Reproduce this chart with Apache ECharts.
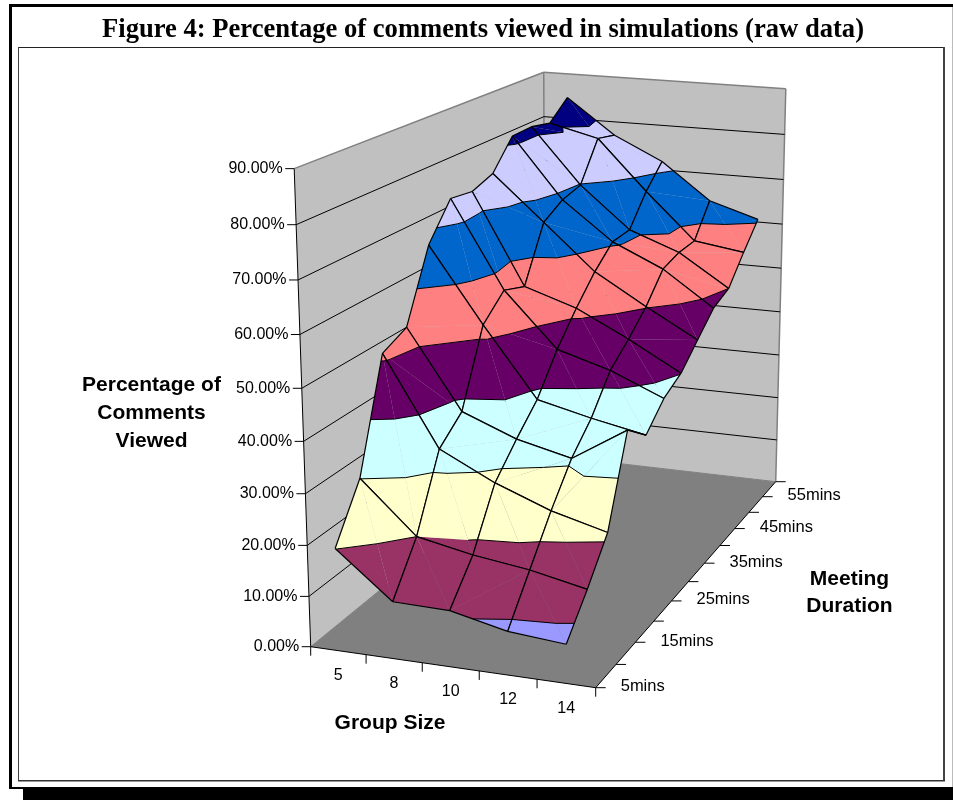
<!DOCTYPE html>
<html><head><meta charset="utf-8"><style>html,body{margin:0;background:#fff}#chart{width:953px;height:800px}</style>
<script src="https://cdn.jsdelivr.net/npm/echarts@6/dist/echarts.min.js"></script></head>
<body><div id="chart"></div>
<script>
// Simulation results: share of comments viewed (%) by group size and meeting length
const groupSizes = ['5', '8', '10', '12', '14'];
const durations = ['5mins', '10mins', '15mins', '20mins', '25mins', '30mins', '35mins', '40mins', '45mins', '50mins', '55mins', '60mins'];
const viewedGroup5  = [20.1, 30.1, 51.3, 53.6, 67.4, 74.5, 73.8, 75.5, 81.5, 81.7, 80.7, 84.7];
const viewedGroup8  = [11.2, 20.0, 33.7, 37.9, 52.4, 56.8, 55.0, 66.1, 68.7, 69.8, 78.1, 77.0];
const viewedGroup10 = [11.0, 17.8, 28.3, 33.6, 38.4, 45.7, 51.5, 56.6, 60.6, 60.9, 67.2, 71.9];
const viewedGroup12 = [8.5, 16.3, 24.1, 31.0, 35.8, 42.5, 46.1, 50.2, 55.7, 56.9, 57.1, 63.9];
const viewedGroup14 = [7.6, 14.0, 21.2, 37.9, 33.6, 37.9, 40.1, 44.2, 48.3, 50.0, 55.5, 60.6];
const surface = [viewedGroup5, viewedGroup8, viewedGroup10, viewedGroup12, viewedGroup14];
const percentTicks = [0, 10, 20, 30, 40, 50, 60, 70, 80, 90];
const bandColors = ['#9999FF', '#993366', '#FFFFCC', '#CCFFFF', '#660066', '#FF8080', '#0066CC', '#CCCCFF', '#000080'];
const PCT_MAX = 90;

function solve(A, b) {
  const n = b.length, M = A.map((r, i) => [...r, b[i]]);
  for (let c = 0; c < n; c++) {
    let p = c;
    for (let r = c; r < n; r++) if (Math.abs(M[r][c]) > Math.abs(M[p][c])) p = r;
    [M[c], M[p]] = [M[p], M[c]];
    for (let r = 0; r < n; r++) {
      if (r === c) continue;
      const f = M[r][c] / M[c][c];
      for (let k = c; k <= n; k++) M[r][k] -= f * M[c][k];
    }
  }
  return M.map((r, i) => r[n] / r[i]);
}

// Perspective camera, fitted to where the box corners sit on the canvas
function makeCamera() {
  const floor = [[0, 0, 310.7, 646.7], [1, 0, 595.7, 687.7], [1, 1, 775.7, 481.7], [0, 1, 545.2, 455]];
  const top = [[0, 0, 295.7, 170], [0, 1, 541.7, 73.3], [1, 1, 786.7, 86.7]];
  const A = [], b = [];
  for (const [u, v, x, y] of floor) {
    A.push([u, v, 1, 0, 0, 0, -u * x, -v * x]); b.push(x);
    A.push([0, 0, 0, u, v, 1, -u * y, -v * y]); b.push(y);
  }
  const [a, bb, d, e, f, l, g, h] = solve(A, b);
  const R = [], s = [];
  for (const [u, v, x, y] of top) {
    R.push([1, 0, -x]); s.push(x * (g * u + h * v + 1) - (a * u + bb * v + d));
    R.push([0, 1, -y]); s.push(y * (g * u + h * v + 1) - (e * u + f * v + l));
  }
  const N = [0, 1, 2].map(i => [0, 1, 2].map(j => R.reduce((t, r) => t + r[i] * r[j], 0)));
  const nb = [0, 1, 2].map(i => R.reduce((t, r, k) => t + r[i] * s[k], 0));
  const [c, k, i3] = solve(N, nb);
  return (u, v, pct) => {
    const w = pct / PCT_MAX, q = g * u + h * v + i3 * w + 1;
    return [(a * u + bb * v + c * w + d) / q, (e * u + f * v + k * w + l) / q];
  };
}
const project = makeCamera();

const uOf = i => (i + 0.5) / groupSizes.length;
const vOf = j => j / (durations.length - 1);

// Cut a triangle [u, v, pct] into the colour bands it crosses
function splitTriangle(tri) {
  const parts = [];
  const lerp = (p, q, level) => {
    const t = (level - p[2]) / (q[2] - p[2]);
    return [p[0] + (q[0] - p[0]) * t, p[1] + (q[1] - p[1]) * t, level];
  };
  const clip = (poly, level, keepAbove) => {
    const out = [];
    poly.forEach((p, idx) => {
      const q = poly[(idx + 1) % poly.length];
      const pIn = keepAbove ? p[2] >= level : p[2] <= level;
      const qIn = keepAbove ? q[2] >= level : q[2] <= level;
      if (pIn) out.push(p);
      if (pIn !== qIn) out.push(lerp(p, q, level));
    });
    return out;
  };
  bandColors.forEach((color, b) => {
    const lo = b * 10, hi = lo + 10;
    let poly = clip(tri, lo, true);
    if (poly.length >= 3) poly = clip(poly, hi, false);
    if (poly.length >= 3) parts.push({ color, poly, lo, hi });
  });
  return parts;
}

// Each cell folds along the diagonal whose two corners sum highest
function cellTriangles(i, j) {
  const P = (a, b) => [uOf(a), vOf(b), surface[a][b]];
  const A = P(i, j), B = P(i + 1, j), C = P(i + 1, j + 1), D = P(i, j + 1);
  return A[2] + C[2] >= B[2] + D[2] ? [[A, B, C], [A, C, D]] : [[A, B, D], [B, C, D]];
}

// Cells run back to front so nearer ones paint over farther ones
const cellData = [];
for (let j = durations.length - 2; j >= 0; j--) {
  for (let i = 0; i < groupSizes.length - 1; i++) cellData.push([i, j]);
}

function chartShapes(api) {
  const at = (u, v, p) => api.coord(project(u, v, p));
  const poly = (pts, style) => ({ type: 'polygon', shape: { points: pts }, style, silent: true });
  const line = (a, b, stroke, width) => ({
    type: 'line', shape: { x1: a[0], y1: a[1], x2: b[0], y2: b[1] },
    style: { stroke, lineWidth: width || 1 }, silent: true
  });
  return { at, poly, line };
}

const wallGrey = '#C0C0C0', floorGrey = '#808080', edgeGrey = '#808080';

// Walls, floor, grid lines, ticks and tick labels
function renderBox(params, api) {
  const { at, poly, line } = chartShapes(api);
  const kids = [];
  kids.push(poly([at(0, 0, 0), at(0, 1, 0), at(0, 1, PCT_MAX), at(0, 0, PCT_MAX)], { fill: wallGrey }));
  kids.push(poly([at(0, 1, 0), at(1, 1, 0), at(1, 1, PCT_MAX), at(0, 1, PCT_MAX)], { fill: wallGrey }));
  kids.push(poly([at(0, 0, 0), at(1, 0, 0), at(1, 1, 0), at(0, 1, 0)], { fill: floorGrey }));
  // Top rim and the far edges of the walls
  kids.push(line(at(0, 0, PCT_MAX), at(0, 1, PCT_MAX), edgeGrey, 1.5));
  kids.push(line(at(0, 1, PCT_MAX), at(1, 1, PCT_MAX), edgeGrey, 1.5));
  kids.push(line(at(0, 1, 0), at(0, 1, PCT_MAX), edgeGrey, 1.5));
  kids.push(line(at(1, 1, 0), at(1, 1, PCT_MAX), edgeGrey, 1.5));
  kids.push(line(at(0, 1, 0), at(1, 1, 0), edgeGrey));
  kids.push(line(at(0, 0, 0), at(0, 1, 0), edgeGrey));
  percentTicks.forEach(p => {
    const a = at(0, 0, p), b = at(0, 1, p), c = at(1, 1, p);
    if (p > 0 && p < PCT_MAX) {
      kids.push(line(a, b, '#000'));
      kids.push(line(b, c, '#000'));
    }
    kids.push(line([a[0] - 9, a[1]], a, '#000'));
    kids.push({
      type: 'text', silent: true,
      style: { text: p.toFixed(2) + '%', x: a[0] - 11.5, y: a[1], align: 'right', verticalAlign: 'middle', fontFamily: 'Liberation Sans', fontSize: 16, fill: '#000' }
    });
  });
  // Axes along the front and right edges of the box
  kids.push(line(at(0, 0, 0), at(0, 0, PCT_MAX), '#000'));
  kids.push(line(at(0, 0, 0), at(1, 0, 0), '#000'));
  kids.push(line(at(1, 0, 0), at(1, 1, 0), '#000'));
  for (let i = 0; i <= groupSizes.length; i++) {
    const a = at(i / groupSizes.length, 0, 0);
    kids.push(line(a, [a[0], a[1] + 9], '#000'));
  }
  groupSizes.forEach((g, i) => {
    const a = at(uOf(i), 0, 0);
    kids.push({
      type: 'text', silent: true,
      style: { text: g, x: a[0], y: a[1] + 25, align: 'center', verticalAlign: 'middle', fontFamily: 'Liberation Sans', fontSize: 16, fill: '#000' }
    });
  });
  durations.forEach((d, j) => {
    const a = at(1, vOf(j), 0);
    kids.push(line(a, [a[0] + 10, a[1]], '#000'));
    if (j % 2 === 0 && j < durations.length - 1) {
      kids.push({
        type: 'text', silent: true,
        style: { text: d, x: a[0] + 25, y: a[1] - 1, align: 'left', verticalAlign: 'middle', fontFamily: 'Liberation Sans', fontSize: 16.5, fill: '#000' }
      });
    }
  });
  return { type: 'group', children: kids };
}

// One mesh cell: colour bands, band boundaries, then the cell outline
function renderCell(params, api) {
  const { at, poly, line } = chartShapes(api);
  const i = api.value(0), j = api.value(1);
  const kids = [], rules = [];
  cellTriangles(i, j).forEach(tri => {
    splitTriangle(tri).forEach(part => {
      kids.push(poly(part.poly.map(p => at(p[0], p[1], p[2])), { fill: part.color }));
      const onHi = part.poly.filter(p => p[2] === part.hi);
      if (onHi.length >= 2) rules.push(line(at(...onHi[0]), at(...onHi[onHi.length - 1]), '#000'));
    });
  });
  const corner = (a, b) => at(uOf(a), vOf(b), surface[a][b]);
  rules.push(line(corner(i, j), corner(i + 1, j), '#000', 1.2));
  rules.push(line(corner(i + 1, j), corner(i + 1, j + 1), '#000', 1.2));
  rules.push(line(corner(i + 1, j + 1), corner(i, j + 1), '#000', 1.2));
  rules.push(line(corner(i, j + 1), corner(i, j), '#000', 1.2));
  return { type: 'group', children: kids.concat(rules) };
}

const chart = echarts.init(document.getElementById('chart'), null, { renderer: 'canvas' });
const labelFont = { fontFamily: 'Liberation Sans', fontWeight: 'bold', fontSize: 21, fill: '#000', textAlign: 'center', textVerticalAlign: 'middle' };
const nameText = (text, x, y) => ({ type: 'text', silent: true, x, y, style: { text, ...labelFont } });
const frameLine = (x, y, width, height, fill) => ({ type: 'rect', silent: true, shape: { x, y, width, height }, style: { fill } });

chart.setOption({
  animation: false,
  backgroundColor: '#fff',
  title: {
    text: 'Figure 4: Percentage of comments viewed in simulations (raw data)',
    left: 478, top: 12, textAlign: 'center',
    textStyle: { fontFamily: 'Liberation Serif', fontWeight: 'bold', fontSize: 26.6, color: '#000' }
  },
  grid: { left: 0, right: 0, top: 0, bottom: 0 },
  xAxis: { type: 'value', min: 0, max: 953, show: false },
  yAxis: { type: 'value', min: 0, max: 800, inverse: true, show: false },
  graphic: [
    frameLine(9, 4, 944, 3, '#000'), frameLine(9, 4, 3, 785, '#000'), frameLine(9, 787, 944, 2, '#000'),
    frameLine(23, 787, 930, 13, '#000'), frameLine(952, 7, 1, 780, '#bbb'),
    frameLine(18, 47, 926, 1, '#222'), frameLine(18, 47, 1, 733, '#444'),
    frameLine(943, 47, 2, 734, '#444'), frameLine(18, 780, 927, 1.5, '#333'),
    nameText('Percentage of', 151.5, 385), nameText('Comments', 151.5, 413), nameText('Viewed', 151.5, 441),
    nameText('Group Size', 390, 723), nameText('Meeting', 849.5, 579), nameText('Duration', 849.5, 606)
  ],
  series: [
    { type: 'custom', coordinateSystem: 'cartesian2d', clip: false, silent: true, z: 2, renderItem: renderBox, data: [[0, 0]] },
    { type: 'custom', coordinateSystem: 'cartesian2d', clip: false, silent: true, z: 3, renderItem: renderCell, data: cellData }
  ]
});
</script></body></html>
